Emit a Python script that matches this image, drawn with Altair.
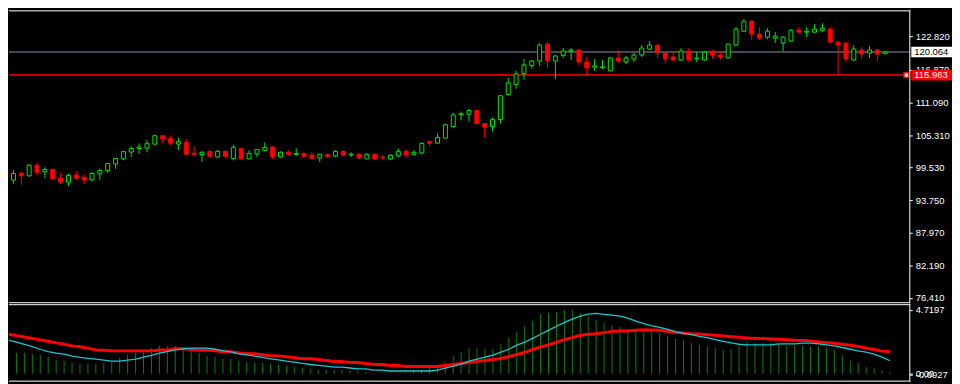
import altair as alt
import pandas as pd

# ---------------- data ----------------
opens = [95.74, 97.32, 98.56, 98.08, 99.97, 98.79, 99.21, 97.67, 96.97, 98.20,
         97.85, 97.38, 98.43, 99.03, 100.19, 101.08, 102.31, 102.91, 103.01, 103.72,
         105.20, 104.67, 103.72, 104.02, 102.08, 101.85, 102.43, 101.43, 102.43, 101.15,
         102.91, 101.08, 101.96, 102.61, 103.19, 101.43, 102.26, 101.85, 102.08, 101.78,
         101.25, 101.85, 101.60, 102.43, 101.78, 101.90, 101.08, 101.90, 101.40, 101.08,
         101.60, 102.43, 101.90, 102.13, 104.19, 103.89, 104.77, 106.84, 108.90, 109.00,
         109.66, 107.37, 106.84, 108.07, 112.53, 114.29, 116.23, 117.64, 118.47, 121.46,
         118.47, 119.47, 120.18, 120.41, 118.29, 117.36, 117.29, 116.71, 119.00, 118.29,
         118.82, 119.52, 120.58, 121.29, 119.88, 119.17, 118.64, 120.23, 118.82, 118.64,
         120.23, 119.52, 119.00, 121.29, 123.75, 125.52, 123.23, 122.70, 122.52, 121.64,
         121.99, 123.93, 123.58, 123.58, 123.93, 124.11, 121.82, 121.64, 118.64, 120.41,
         119.88, 120.41, 119.75]
highs = [97.85, 99.09, 98.79, 100.20, 100.44, 99.61, 99.30, 98.61, 98.50, 98.91,
         98.33, 98.73, 99.38, 100.35, 101.20, 102.49, 103.31, 103.85, 104.49, 105.25,
         105.25, 105.20, 104.85, 104.67, 103.31, 102.43, 102.56, 102.73, 102.56, 103.61,
         103.14, 102.61, 102.80, 104.02, 103.37, 102.43, 102.61, 102.96, 102.10, 102.26,
         101.95, 102.08, 102.61, 102.61, 102.26, 102.08, 102.08, 102.08, 101.73, 101.90,
         102.96, 102.78, 102.61, 104.02, 104.25, 105.60, 107.37, 109.30, 109.48, 110.01,
         109.83, 107.40, 108.42, 112.35, 115.47, 116.71, 118.82, 118.64, 121.64, 121.82,
         119.52, 120.76, 120.76, 120.58, 119.17, 118.82, 118.64, 119.17, 120.41, 119.35,
         119.88, 121.29, 121.99, 121.46, 120.05, 120.23, 120.76, 120.76, 120.05, 120.23,
         120.41, 120.23, 121.50, 124.46, 125.87, 125.69, 124.46, 124.28, 123.58, 122.87,
         124.11, 124.46, 124.46, 124.99, 125.16, 124.46, 121.99, 121.70, 121.29, 120.93,
         121.11, 120.58, 120.10]
lows = [95.38, 96.67, 96.44, 97.95, 98.20, 97.67, 97.45, 96.62, 96.27, 97.32,
        96.62, 97.15, 97.32, 98.61, 99.31, 100.85, 101.43, 101.96, 102.26, 103.49,
        103.89, 103.54, 102.66, 101.73, 101.55, 100.55, 101.25, 101.20, 101.25, 100.85,
        101.02, 101.02, 101.43, 102.43, 101.02, 101.25, 101.67, 101.67, 101.25, 101.02,
        100.55, 101.32, 101.43, 101.55, 101.43, 101.08, 101.02, 100.90, 100.90, 100.85,
        101.43, 101.25, 101.73, 101.90, 103.31, 103.80, 104.70, 106.54, 107.89, 107.72,
        107.19, 104.90, 105.96, 107.37, 112.30, 113.53, 115.12, 117.11, 117.59, 117.23,
        115.30, 119.00, 118.64, 117.76, 115.82, 116.71, 117.06, 116.65, 118.11, 117.94,
        118.29, 119.17, 120.41, 119.00, 118.11, 118.47, 118.47, 118.29, 118.29, 118.47,
        118.82, 118.64, 118.95, 121.20, 123.58, 122.17, 122.17, 122.34, 121.64, 120.23,
        121.90, 123.40, 122.70, 123.50, 123.58, 121.64, 115.96, 118.29, 118.47, 118.82,
        119.00, 118.47, 119.70]
closes = [97.50, 98.50, 98.08, 99.97, 98.73, 99.21, 97.55, 96.97, 98.15, 97.67,
          97.32, 98.50, 99.03, 100.26, 101.15, 102.38, 102.91, 103.19, 103.79, 105.20,
          104.60, 103.89, 104.14, 101.90, 101.90, 102.26, 101.55, 102.43, 101.55, 103.14,
          101.08, 102.03, 102.73, 103.14, 101.43, 102.26, 101.90, 102.03, 101.55, 101.20,
          101.90, 101.50, 102.43, 101.78, 101.90, 101.25, 101.90, 101.08, 101.30, 101.73,
          102.43, 101.78, 102.26, 103.84, 103.84, 104.90, 107.14, 108.90, 109.13, 109.66,
          107.37, 106.71, 108.07, 112.30, 114.59, 116.18, 117.76, 118.47, 121.29, 118.47,
          119.35, 120.23, 120.41, 118.29, 117.23, 117.59, 117.41, 119.00, 118.47, 119.00,
          119.52, 120.76, 121.29, 119.88, 118.82, 118.64, 120.23, 118.64, 119.00, 120.05,
          119.52, 119.17, 121.46, 124.11, 125.52, 123.23, 122.52, 123.75, 122.87, 122.70,
          123.93, 123.58, 123.75, 124.11, 124.28, 121.82, 121.29, 118.82, 120.58, 119.70,
          120.41, 119.70, 120.06]

hist = [1.70, 1.62, 1.54, 1.54, 1.47, 1.40, 1.25, 1.03, 0.96, 0.81,
        0.74, 0.74, 0.74, 0.81, 0.96, 1.18, 1.40, 1.54, 1.69, 1.91,
        2.06, 2.06, 2.06, 1.84, 1.76, 1.54, 1.32, 1.25, 1.10, 1.10,
        0.96, 0.88, 0.81, 0.81, 0.74, 0.66, 0.59, 0.51, 0.44, 0.37,
        0.29, 0.29, 0.29, 0.29, 0.22, 0.15, 0.15, 0.07, 0.07, 0.07,
        0.07, 0.07, 0.22, 0.29, 0.44, 0.44, 0.88, 1.32, 1.62, 1.91,
        1.91, 1.84, 1.84, 2.21, 2.65, 3.09, 3.53, 3.90, 4.41, 4.49,
        4.56, 4.71, 4.71, 4.49, 4.26, 3.97, 3.75, 3.60, 3.46, 3.31,
        3.24, 3.16, 3.16, 3.01, 2.79, 2.57, 2.50, 2.28, 2.13, 2.06,
        1.91, 1.76, 1.84, 2.06, 2.35, 2.28, 2.28, 2.28, 2.21, 2.06,
        2.06, 2.06, 1.99, 1.99, 1.91, 1.76, 1.40, 0.96, 0.81, 0.51,
        0.44, 0.22, 0.15]
macd_line = [2.67, 2.48, 2.33, 2.18, 2.01, 1.81, 1.64, 1.52, 1.45, 1.30,
             1.20, 1.13, 1.08, 1.01, 0.93, 0.93, 1.01, 1.08, 1.23, 1.35,
             1.52, 1.64, 1.76, 1.84, 1.89, 1.89, 1.89, 1.81, 1.71, 1.62,
             1.47, 1.40, 1.30, 1.20, 1.10, 1.03, 0.93, 0.86, 0.76, 0.68,
             0.61, 0.56, 0.49, 0.49, 0.42, 0.35, 0.35, 0.27, 0.27, 0.20,
             0.20, 0.20, 0.20, 0.20, 0.20, 0.27, 0.42, 0.56, 0.71, 0.93,
             1.08, 1.23, 1.37, 1.60, 1.81, 2.11, 2.33, 2.62, 2.92, 3.21,
             3.51, 3.80, 4.04, 4.26, 4.41, 4.46, 4.39, 4.34, 4.26, 4.12,
             3.90, 3.70, 3.55, 3.43, 3.29, 3.11, 2.99, 2.89, 2.77, 2.67,
             2.52, 2.40, 2.28, 2.18, 2.13, 2.13, 2.13, 2.13, 2.21, 2.21,
             2.21, 2.26, 2.26, 2.21, 2.13, 2.06, 1.94, 1.81, 1.69, 1.60,
             1.45, 1.23, 0.96]
signal_line = [3.01, 2.92, 2.82, 2.72, 2.60, 2.50, 2.40, 2.28, 2.18, 2.06,
               1.99, 1.89, 1.76, 1.74, 1.69, 1.69, 1.69, 1.69, 1.69, 1.69,
               1.76, 1.76, 1.84, 1.84, 1.79, 1.76, 1.76, 1.69, 1.62, 1.62,
               1.54, 1.47, 1.47, 1.40, 1.32, 1.32, 1.25, 1.18, 1.10, 1.10,
               1.05, 0.98, 0.91, 0.91, 0.83, 0.83, 0.76, 0.68, 0.68, 0.61,
               0.61, 0.54, 0.54, 0.54, 0.54, 0.54, 0.61, 0.68, 0.76, 0.83,
               0.91, 0.98, 1.05, 1.13, 1.27, 1.42, 1.57, 1.79, 1.99, 2.13,
               2.33, 2.52, 2.67, 2.85, 2.92, 2.96, 3.04, 3.14, 3.16, 3.16,
               3.22, 3.26, 3.23, 3.21, 3.14, 3.06, 3.01, 2.96, 2.94, 2.89,
               2.85, 2.79, 2.74, 2.70, 2.65, 2.60, 2.60, 2.57, 2.55, 2.52,
               2.48, 2.45, 2.43, 2.35, 2.30, 2.26, 2.18, 2.11, 2.01, 1.89,
               1.79, 1.67, 1.62]

price_ticks = [76.41, 82.19, 87.97, 93.75, 99.53, 105.31, 111.09, 116.87, 122.82]
macd_ticks = [4.7197, 0.0, -0.0927]
macd_tick_labels = ["4.7197", "0.00", "-0.0927"]
bid_price = 120.064
alert_price = 115.963
bid_tag = "120.064"
alert_tag = "115.963"

# ---------------- styling ----------------
GREEN = "#00e600"
RED = "#ff0000"
CYAN = "#19c8cf"
HIST = "#0b800b"
BIDLINE = "#8796ad"
WHITE = "#ffffff"
FONT = "Liberation Sans"
FS = 9.5

W = 907
H1 = 294
H2 = 78

n = len(opens)
df = pd.DataFrame({
    "i": list(range(1, n + 1)),
    "open": opens, "high": highs, "low": lows, "close": closes,
    "dir": ["up" if c >= o else "down" for o, c in zip(opens, closes)],
    "hist": hist, "macd": macd_line, "signal": signal_line,
    "zero": [0.0] * n,
})

xs = alt.Scale(domain=[2.0625, 115.4375], nice=False, zero=False)
X = alt.X("i:Q", scale=xs, axis=None)

ys = alt.Scale(domain=[75.65, 127.45], nice=False, zero=False)
yaxis = alt.Axis(orient="right", values=price_ticks, labelExpr="format(datum.value, '.3f')",
                 title=None, domain=False, grid=False, ticks=True, tickSize=3,
                 tickColor=WHITE, labelColor=WHITE, labelFont=FONT, labelFontSize=FS,
                 labelPadding=3, labelOverlap=False, labelBaseline="middle")

dir_stroke = alt.Scale(domain=["up", "down"], range=[GREEN, RED])
dir_fill = alt.Scale(domain=["up", "down"], range=["#000000", RED])

base = alt.Chart(df)

wicks = base.mark_rule(strokeWidth=1, clip=True).encode(
    x=X,
    y=alt.Y("low:Q", scale=ys, axis=yaxis),
    y2="high:Q",
    stroke=alt.Stroke("dir:N", scale=dir_stroke, legend=None),
)
bodies = base.mark_bar(size=4, strokeWidth=1, clip=True).encode(
    x=X,
    y=alt.Y("open:Q", scale=ys, axis=yaxis),
    y2="close:Q",
    fill=alt.Fill("dir:N", scale=dir_fill, legend=None),
    stroke=alt.Stroke("dir:N", scale=dir_stroke, legend=None),
)

bid_df = pd.DataFrame({"price": [bid_price], "tag": [bid_tag]})
alert_df = pd.DataFrame({"price": [alert_price], "tag": [alert_tag]})

bid_rule = alt.Chart(bid_df).mark_rule(stroke=BIDLINE, strokeWidth=1).encode(
    y=alt.Y("price:Q", scale=ys, axis=yaxis))
alert_rule = alt.Chart(alert_df).mark_rule(stroke=RED, strokeWidth=1.5).encode(
    y=alt.Y("price:Q", scale=ys, axis=yaxis))
alert_marker = alt.Chart(alert_df).mark_point(
    shape="square", size=22, filled=True, fill=WHITE, stroke=RED, strokeWidth=1.5, opacity=1
).encode(x=alt.value(904), y=alt.Y("price:Q", scale=ys, axis=yaxis))


def tag_layers(frame, bg, fg):
    box = alt.Chart(frame).transform_calculate(
        top="datum.price + 0.95", bot="datum.price - 0.95"
    ).mark_rect(clip=False, fill=bg).encode(
        x=alt.value(909), x2=alt.value(950),
        y=alt.Y("top:Q", scale=ys, axis=yaxis), y2="bot:Q",
    )
    txt = alt.Chart(frame).mark_text(align="left", baseline="middle", font=FONT,
                                     fontSize=FS, clip=False, fill=fg).encode(
        x=alt.value(912),
        y=alt.Y("price:Q", scale=ys, axis=yaxis),
        text="tag:N",
    )
    return [box, txt]


def rule_at(**enc):
    return alt.Chart(bid_df).mark_rule(stroke=WHITE, strokeWidth=1).encode(**enc)


border_main = [
    rule_at(x=alt.value(0), x2=alt.value(W + 1), y=alt.value(0.5)),
    rule_at(x=alt.value(0), x2=alt.value(W + 1), y=alt.value(H1 + 0.5)),
    rule_at(x=alt.value(W + 0.5), y=alt.value(0), y2=alt.value(H1 + 1)),
]

main = alt.layer(bid_rule, alert_rule, wicks, bodies, alert_marker, *border_main,
                 *tag_layers(bid_df, WHITE, "#000000"),
                 *tag_layers(alert_df, RED, WHITE)).properties(width=W, height=H1)

# ---------------- MACD panel ----------------
ys2 = alt.Scale(domain=[-0.588, 5.147], nice=False, zero=False)
parts = [f"abs(datum.value - ({v})) < 0.00001 ? '{t}'" for v, t in zip(macd_ticks, macd_tick_labels)]
sub_expr = " : ".join(parts) + " : ''"
yaxis2 = alt.Axis(orient="right", values=macd_ticks, labelExpr=sub_expr, title=None,
                  domain=False, grid=False, tickSize=3, tickColor=WHITE, labelColor=WHITE,
                  labelFont=FONT, labelFontSize=FS, labelPadding=3, labelOverlap=False,
                  labelBaseline="middle")

sub_base = alt.Chart(df)
hist_bars = sub_base.mark_rule(stroke=HIST, strokeWidth=1, clip=True).encode(
    x=X, y=alt.Y("zero:Q", scale=ys2, axis=yaxis2), y2="hist:Q")
sig = sub_base.mark_line(stroke=RED, strokeWidth=3, clip=True).encode(
    x=X, y=alt.Y("signal:Q", scale=ys2, axis=yaxis2))
mac = sub_base.mark_line(stroke=CYAN, strokeWidth=1.3, clip=True).encode(
    x=X, y=alt.Y("macd:Q", scale=ys2, axis=yaxis2))

border_sub = [
    rule_at(x=alt.value(0), x2=alt.value(W + 1), y=alt.value(0.5)),
    rule_at(x=alt.value(0), x2=alt.value(W + 1), y=alt.value(H2 - 0.5)),
    rule_at(x=alt.value(W + 0.5), y=alt.value(0), y2=alt.value(H2)),
]

sub = alt.layer(hist_bars, sig, mac, *border_sub).properties(width=W, height=H2)

chart = alt.vconcat(main, sub, spacing=2, bounds="flush").properties(
    padding=0, background="#000000"
).configure_view(stroke=None).configure_concat(spacing=2)

chart.save("out.html", embed_options={"renderer": "svg", "actions": False})
